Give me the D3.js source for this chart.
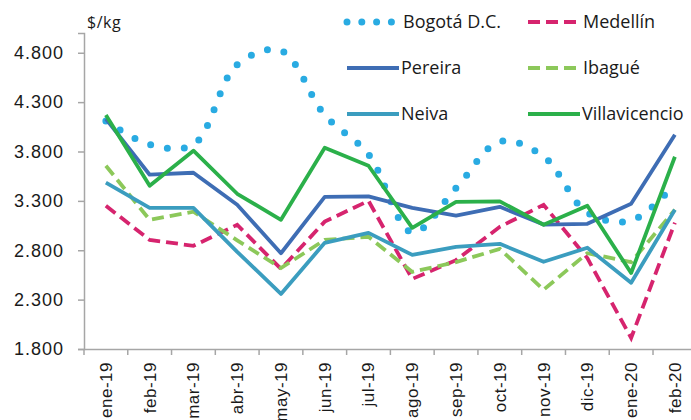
<!DOCTYPE html>
<html>
<head>
<meta charset="utf-8">
<script src="https://cdn.jsdelivr.net/npm/d3@7"></script>
<style>
  body { margin: 0; background: #fff; }
  svg { display: block; font-family: "Open Sans", sans-serif; }
</style>
</head>
<body>
<svg id="chart"></svg>
<script>
// months on the x axis
const months = ["ene-19", "feb-19", "mar-19", "abr-19", "may-19", "jun-19", "jul-19",
                "ago-19", "sep-19", "oct-19", "nov-19", "dic-19", "ene-20", "feb-20"];

// prices in $/kg
const bogota        = [4110, 3870, 3870, 4680, 4820, 4170, 3770, 2980, 3430, 3900, 3750, 3180, 3100, 3470];
const medellin      = [3250, 2905, 2845, 3058, 2611, 3090, 3300, 2510, 2700, 3037, 3260, 2720, 1912, 3078];
const pereira       = [4130, 3565, 3585, 3260, 2770, 3340, 3345, 3230, 3150, 3240, 3060, 3068, 3270, 3970];
const ibague        = [3656, 3108, 3190, 2900, 2620, 2905, 2936, 2581, 2680, 2814, 2400, 2770, 2680, 3210];
const neiva         = [3485, 3230, 3230, 2784, 2358, 2875, 2976, 2753, 2834, 2865, 2683, 2825, 2470, 3210];
const villavicencio = [4170, 3453, 3808, 3372, 3108, 3838, 3656, 3027, 3290, 3295, 3058, 3250, 2570, 3747];

const yTicks = [1800, 2300, 2800, 3300, 3800, 4300, 4800];

const series = [
    {name: "Bogotá D.C.",   values: bogota,        color: "#29abe2", style: "dot"},
    {name: "Medellín",      values: medellin,      color: "#d6246e", style: "dash"},
    {name: "Pereira",       values: pereira,       color: "#3e6db4", style: "solid"},
    {name: "Ibagué",        values: ibague,        color: "#8cc85a", style: "dash"},
    {name: "Neiva",         values: neiva,         color: "#3b9dbf", style: "solid"},
    {name: "Villavicencio", values: villavicencio, color: "#2bb04a", style: "solid"}
];

const width = 691, height = 420;
const margin = {top: 33, left: 84, bottom: 71};
const bandW = 43.77;

const svg = d3.select("#chart")
    .attr("width", width)
    .attr("height", height);

const x = d3.scaleBand()
    .domain(months)
    .range([margin.left, margin.left + bandW * months.length]);

const y = d3.scaleLinear()
    .domain([1800, 5000])
    .range([height - margin.bottom, margin.top]);

const fmt = d => d3.format(",")(d).replace(",", ".");

// y axis
const yAxis = svg.append("g")
    .attr("transform", `translate(${margin.left},0)`)
    .call(d3.axisLeft(y).tickValues(yTicks).tickSize(6).tickPadding(14).tickFormat(fmt));
yAxis.select(".domain").attr("stroke", "#a6a6a6").attr("stroke-width", 1.5);
yAxis.selectAll(".tick line").attr("stroke", "#a6a6a6").attr("stroke-width", 1.5);
yAxis.selectAll(".tick text")
    .attr("fill", "#1a1a1a")
    .style("font-size", "18px")
    .style("letter-spacing", "1px");

// x axis
const xAxis = svg.append("g")
    .attr("transform", `translate(0,${y(1800)})`)
    .call(d3.axisBottom(x).tickSizeOuter(0).tickSize(0));
xAxis.select(".domain").attr("stroke", "#a6a6a6").attr("stroke-width", 1.5);
xAxis.selectAll(".tick text")
    .attr("fill", "#1a1a1a")
    .style("font-size", "17px")
    .style("letter-spacing", "0.5px")
    .attr("text-anchor", "end")
    .attr("transform", "rotate(-90)")
    .attr("x", -13)
    .attr("y", 0)
    .attr("dy", "0.35em");

// tick marks between categories
svg.append("g")
    .selectAll("line")
    .data(months)
    .join("line")
    .attr("x1", d => x(d))
    .attr("x2", d => x(d))
    .attr("y1", y(1800))
    .attr("y2", y(1800) + 6)
    .attr("stroke", "#a6a6a6")
    .attr("stroke-width", 1.5);

// unit label
svg.append("text")
    .attr("x", 87)
    .attr("y", 28)
    .attr("fill", "#1a1a1a")
    .style("font-size", "16px")
    .style("letter-spacing", "0.5px")
    .text("$/kg");

function applyStyle(sel, s, legend) {
    sel.attr("fill", "none")
        .attr("stroke", s.color);
    if (s.style === "dot") {
        sel.attr("stroke-width", 7)
            .attr("stroke-linecap", "round")
            .attr("stroke-dasharray", legend ? "0 14.8" : "0 17");
    } else if (s.style === "dash") {
        sel.attr("stroke-width", 3.8)
            .attr("stroke-dasharray", "12 6");
    } else {
        sel.attr("stroke-width", 3.8)
            .attr("stroke-linejoin", "round");
    }
}

// lines
series.forEach(s => {
    const line = d3.line()
        .x((d, i) => x(months[i]) + x.bandwidth() / 2)
        .y(d => y(d))
        .curve(s.style === "dot" ? d3.curveCatmullRom.alpha(0.5) : d3.curveLinear);
    svg.append("path")
        .datum(s.values)
        .attr("d", line)
        .call(applyStyle, s, false);
});

// legend
const legendPos = [
    {x: 347, y: 22}, {x: 528, y: 22},
    {x: 347, y: 68}, {x: 528, y: 68},
    {x: 347, y: 114}, {x: 528, y: 114}
];

series.forEach((s, i) => {
    const p = legendPos[i];
    const g = svg.append("g").attr("transform", `translate(${p.x},${p.y})`);
    const len = s.style === "dot" ? 45 : (s.style === "dash" ? 48 : 52);
    g.append("line")
        .attr("x1", 0)
        .attr("x2", len)
        .attr("y1", 0)
        .attr("y2", 0)
        .call(applyStyle, s, true);
    g.append("text")
        .attr("x", s.style === "dash" ? 55 : (s.style === "dot" ? 56 : 54))
        .attr("y", 0)
        .attr("dy", "0.36em")
        .attr("fill", "#1a1a1a")
        .style("font-size", "18px")
        .text(s.name);
});
</script>
</body>
</html>
